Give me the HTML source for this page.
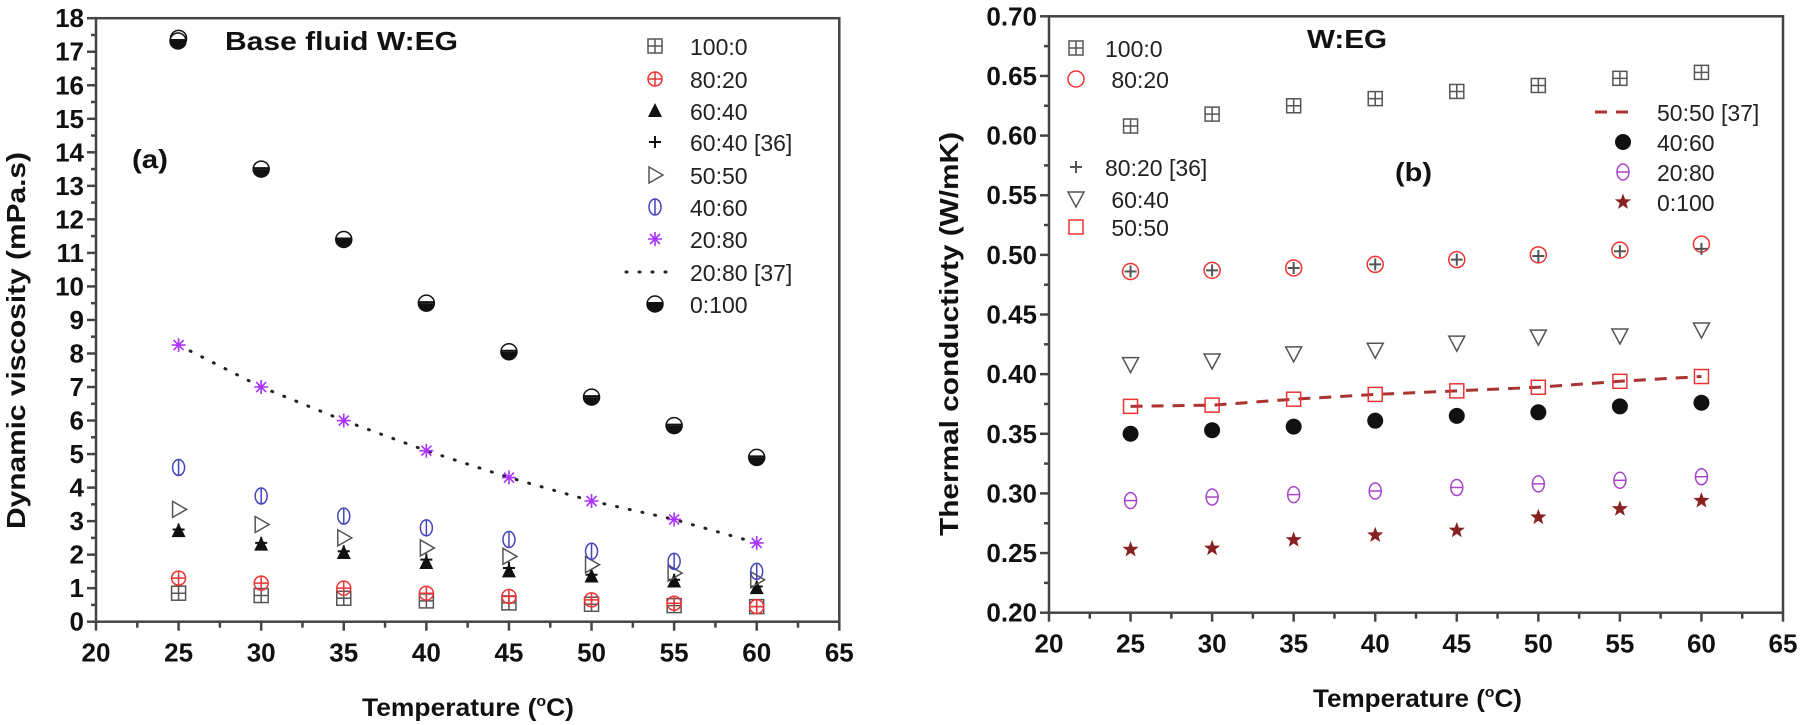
<!DOCTYPE html>
<html><head><meta charset="utf-8"><style>
html,body{margin:0;padding:0;background:#fff}
svg{display:block}
text{font-family:"Liberation Sans",Arial,sans-serif}
</style></head><body>
<svg id="s" width="1803" height="725" viewBox="0 0 1803 725" xmlns="http://www.w3.org/2000/svg"></svg>
<script>
const S=document.getElementById('s');let h='';
function ax(o){
 const {x0,x1,y0,y1,ymin,ymax,ymaj,ymin2,fmt}=o;
 const X=v=>x0+(v-20)/45*(x1-x0), Y=v=>y0-(v-ymin)/(ymax-ymin)*(y0-y1);
 h+=`<rect x="${x0}" y="${y1}" width="${x1-x0}" height="${y0-y1}" fill="none" stroke="#444" stroke-width="2.5"/>`;
 for(let v=20;v<=65.01;v+=2.5){const maj=Math.abs(v%5)<0.01;h+=`<line x1="${X(v)}" x2="${X(v)}" y1="${y0}" y2="${y0+(maj?9:6)}" stroke="#444" stroke-width="2.5"/>`;
  if(maj)h+=`<text x="${X(v)}" y="${y0+40}" font-size="26" font-weight="bold" text-anchor="middle" fill="#111">${v}</text>`;}
 const n=Math.round((ymax-ymin)/ymin2);
 for(let i=0;i<=n;i++){const v=ymin+i*ymin2;const maj=Math.abs((v-ymin)/ymaj-Math.round((v-ymin)/ymaj))<1e-6;
  h+=`<line x1="${x0}" x2="${x0-(maj?9:5)}" y1="${Y(v)}" y2="${Y(v)}" stroke="#444" stroke-width="2.5"/>`;
  if(maj)h+=`<text x="${x0-12}" y="${Y(v)+9}" font-size="26" font-weight="bold" text-anchor="end" fill="#111">${fmt(v)}</text>`;}
 return [X,Y];
}
function mk(t,x,y,c){
 const r=7;
 switch(t){
 case 'sq':return `<rect x="${x-7}" y="${y-7}" width="14" height="14" fill="none" stroke="${c}" stroke-width="1.5"/>`;
 case 'sqp':return `<rect x="${x-r}" y="${y-r}" width="${2*r}" height="${2*r}" fill="none" stroke="${c}" stroke-width="1.5"/><path d="M${x-r} ${y}H${x+r}M${x} ${y-r}V${y+r}" stroke="${c}" stroke-width="1.5"/>`;
 case 'cp':return `<circle cx="${x}" cy="${y}" r="${r}" fill="none" stroke="${c}" stroke-width="1.5"/><path d="M${x-r} ${y}H${x+r}M${x} ${y-r}V${y+r}" stroke="${c}" stroke-width="1.5"/>`;
 case 'c':return `<circle cx="${x}" cy="${y}" r="8" fill="none" stroke="${c}" stroke-width="1.5"/>`;
 case 'cv':return `<ellipse cx="${x}" cy="${y}" rx="${r-1}" ry="${r+1}" fill="none" stroke="${c}" stroke-width="1.5"/><path d="M${x} ${y-r-1}V${y+r+1}" stroke="${c}" stroke-width="1.5"/>`;
 case 'ch':return `<ellipse cx="${x}" cy="${y}" rx="${r-1}" ry="${r+1}" fill="none" stroke="${c}" stroke-width="1.5"/><path d="M${x-r+1} ${y}H${x+r-1}" stroke="${c}" stroke-width="1.5"/>`;
 case 'tri':return `<path d="M${x} ${y-8}L${x+7} ${y+6}H${x-7}Z" fill="${c}"/>`;
 case 'dtri':return `<path d="M${x-8} ${y-7}H${x+8}L${x} ${y+8}Z" fill="none" stroke="${c}" stroke-width="1.5"/>`;
 case 'rtri':return `<path d="M${x-6} ${y-8}L${x+8} ${y}L${x-6} ${y+8}Z" fill="none" stroke="${c}" stroke-width="1.5"/>`;
 case 'plus':return `<path d="M${x-6} ${y}H${x+6}M${x} ${y-6}V${y+6}" stroke="${c}" stroke-width="2"/>`;
 case 'star':return `<path d="M${x-7} ${y}H${x+7}M${x} ${y-7}V${y+7}M${x-5} ${y-5}L${x+5} ${y+5}M${x-5} ${y+5}L${x+5} ${y-5}" stroke="${c}" stroke-width="1.6"/>`;
 case 'half':return `<circle cx="${x}" cy="${y}" r="8" fill="#fff" stroke="#111" stroke-width="1.5"/><path d="M${x-8} ${y}A8 8 0 0 0 ${x+8} ${y}Z" fill="#111"/><path d="M${x-8} ${y-1}H${x+8}" stroke="#111" stroke-width="2"/>`;
 case 'dot':return `<circle cx="${x}" cy="${y}" r="8" fill="${c}"/>`;
 case 'fstar':{let p='';for(let i=0;i<10;i++){const a=-Math.PI/2+i*Math.PI/5,rr=i%2?3.5:8.5;p+=(i?'L':'M')+(x+rr*Math.cos(a)).toFixed(1)+' '+(y+rr*Math.sin(a)).toFixed(1);}return `<path d="${p}Z" fill="${c}"/>`;}
 }
}
const T=[25,30,35,40,45,50,55,60];
// Panel a
let [X,Y]=ax({x0:96,x1:839.3,y0:621.7,y1:18.2,ymin:0,ymax:18,ymaj:1,ymin2:0.5,fmt:v=>v});
const A=[
 ['sqp','#555',[0.85,0.78,0.7,0.62,0.56,0.52,0.48,0.45]],
 ['cp','#e33',[1.3,1.15,1.0,0.85,0.75,0.65,0.55,0.45]],
 ['tri','#111',[2.7,2.3,2.05,1.75,1.5,1.35,1.2,1.0]],
 ['plus','#111',[2.75,2.35,2.1,1.85,1.6,1.4,1.25,1.05]],
 ['rtri','#555',[3.35,2.9,2.5,2.2,1.95,1.7,1.45,1.25]],
 ['cv','#44b',[4.6,3.75,3.15,2.8,2.45,2.1,1.8,1.5]],
 ['star','#a3f',[8.25,7.0,6.0,5.1,4.3,3.6,3.05,2.35]],
 ['half','#111',[17.4,13.5,11.4,9.5,8.05,6.7,5.85,4.9]]];
h+=`<polyline points="${T.map((t,i)=>X(t)+','+Y(A[6][2][i])).join(' ')}" fill="none" stroke="#222" stroke-width="3" stroke-dasharray="1 12" stroke-linecap="round"/>`;
A.forEach(s=>s[2].forEach((v,i)=>h+=mk(s[0],X(T[i]),Y(v),s[1])));
const LA=[['sqp','#555','100:0'],['cp','#e33','80:20'],['tri','#111','60:40'],['plus','#111','60:40 [36]'],['rtri','#555','50:50'],['cv','#44b','40:60'],['star','#a3f','20:80'],['dotl','#222','20:80 [37]'],['half','#111','0:100']];
const ly=[46,79,111,142,175,207,239,272,304];
LA.forEach((l,i)=>{if(l[0]=='dotl')h+=`<line x1="626" x2="676" y1="${ly[i]}" y2="${ly[i]}" stroke="#222" stroke-width="3" stroke-dasharray="1 12" stroke-linecap="round"/>`;else h+=mk(l[0],655,ly[i],l[1]);
 h+=`<text x="690" y="${ly[i]+9}" font-size="23" fill="#222">${l[2]}</text>`;});
h+=mk('half',178,41,'#111')+`<text x="225" y="50" font-size="26" font-weight="bold" fill="#111" textLength="233" lengthAdjust="spacingAndGlyphs">Base fluid W:EG</text>`;
h+=`<text x="132" y="168" font-size="26" font-weight="bold" fill="#111" textLength="36" lengthAdjust="spacingAndGlyphs">(a)</text>`;
h+=`<text x="362" y="716" font-size="25" font-weight="bold" fill="#111" textLength="212" lengthAdjust="spacingAndGlyphs">Temperature (<tspan font-size="15" dy="-10">o</tspan><tspan dy="10">C)</tspan></text>`;
h+=`<text transform="translate(25,529) rotate(-90)" font-size="26" font-weight="bold" fill="#111" textLength="377" lengthAdjust="spacingAndGlyphs">Dynamic viscosity (mPa.s)</text>`;
// Panel b
[X,Y]=ax({x0:1049,x1:1783,y0:612.7,y1:16.3,ymin:0.2,ymax:0.7,ymaj:0.05,ymin2:0.025,fmt:v=>v.toFixed(2)});
const B=[
 ['sqp','#555',[.608,.618,.625,.631,.637,.642,.648,.653]],
 ['c','#e33',[.486,.487,.489,.492,.496,.500,.504,.509]],
 ['plus','#555',[.486,.487,.489,.492,.496,.499,.503,.505]],
 ['dtri','#555',[.408,.411,.417,.420,.426,.431,.432,.437]],
 ['sq','#e33',[.373,.374,.379,.383,.386,.389,.394,.398]],
 ['dot','#111',[.350,.353,.356,.361,.365,.368,.373,.376]],
 ['ch','#a4c',[.294,.297,.299,.302,.305,.308,.311,.314]],
 ['fstar','#822',[.253,.254,.261,.265,.269,.280,.287,.294]]];
h+=`<polyline points="${T.map((t,i)=>X(t)+','+Y(B[4][2][i])).join(' ')}" fill="none" stroke="#a33" stroke-width="3" stroke-dasharray="12 9"/>`;
B.forEach(s=>s[2].forEach((v,i)=>h+=mk(s[0],X(T[i]),Y(v),s[1])));
const LB=[['sqp','#555','100:0',1076,1105,48],['c','#e33',' 80:20',1076,1105,79],['plus','#555','80:20 [36]',1076,1105,167],['dtri','#555',' 60:40',1076,1105,199],['sq','#e33',' 50:50',1076,1105,227],
 ['dash','#a33','50:50 [37]',1623,1657,112],['dot','#111','40:60',1623,1657,142],['ch','#a4c','20:80',1623,1657,172],['fstar','#822','0:100',1623,1657,202]];
LB.forEach(l=>{if(l[0]=='dash')h+=`<line x1="1595" x2="1636" y1="${l[5]}" y2="${l[5]}" stroke="#a33" stroke-width="3" stroke-dasharray="12 9"/>`;else h+=mk(l[0],l[3],l[5],l[1]);
 h+=`<text x="${l[4]}" y="${l[5]+9}" font-size="23" fill="#222" xml:space="preserve">${l[2]}</text>`;});
h+=`<text x="1307" y="48" font-size="26" font-weight="bold" fill="#111" textLength="80" lengthAdjust="spacingAndGlyphs">W:EG</text>`;
h+=`<text x="1395" y="181" font-size="26" font-weight="bold" fill="#111" textLength="37" lengthAdjust="spacingAndGlyphs">(b)</text>`;
h+=`<text x="1313" y="707" font-size="25" font-weight="bold" fill="#111" textLength="209" lengthAdjust="spacingAndGlyphs">Temperature (<tspan font-size="15" dy="-10">o</tspan><tspan dy="10">C)</tspan></text>`;
h+=`<text transform="translate(958,536) rotate(-90)" font-size="26" font-weight="bold" fill="#111" textLength="404" lengthAdjust="spacingAndGlyphs">Thermal conductivty (W/mK)</text>`;
S.innerHTML=h;
</script>
</body></html>
